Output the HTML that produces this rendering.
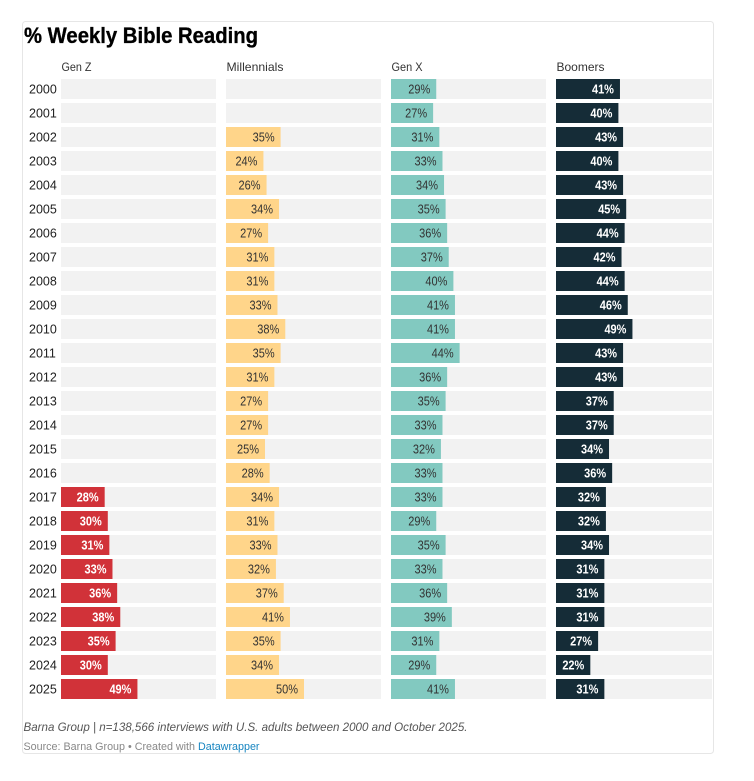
<!DOCTYPE html>
<html lang="en">
<head>
<meta charset="utf-8">
<title>% Weekly Bible Reading</title>
<style>
  html, body { margin: 0; padding: 0; background: #fff; width: 754px; height: 781px; overflow: hidden; }
  svg { display: block; font-family: "Liberation Sans", sans-serif; }
  a { text-decoration: none; }
</style>
</head>
<body>
<svg id="chart" width="754" height="781" viewBox="0 0 754 781">
  <rect x="22.5" y="21.5" width="691" height="732" rx="3" fill="#fff" stroke="#e6e6e6"/>
  <text x="24" y="43" font-size="22" font-weight="700" fill="#000" stroke="#000" stroke-width="0.35" textLength="234" lengthAdjust="spacingAndGlyphs">% Weekly Bible Reading</text>
  <g id="plot"></g>
  <text x="23.5" y="731" font-size="12" font-style="italic" fill="#555" textLength="444" lengthAdjust="spacingAndGlyphs">Barna Group | n=138,566 interviews with U.S. adults between 2000 and October 2025.</text>
  <text x="23.5" y="750" font-size="11" fill="#888" textLength="236" lengthAdjust="spacingAndGlyphs">Source: Barna Group • Created with <tspan fill="#1584c0">Datawrapper</tspan></text>
</svg>
<script>
const years = [2000,2001,2002,2003,2004,2005,2006,2007,2008,2009,2010,2011,2012,2013,2014,2015,2016,2017,2018,2019,2020,2021,2022,2023,2024,2025];
const genZ = [null,null,null,null,null,null,null,null,null,null,null,null,null,null,null,null,null,28,30,31,33,36,38,35,30,49];
const millennials = [null,null,35,24,26,34,27,31,31,33,38,35,31,27,27,25,28,34,31,33,32,37,41,35,34,50];
const genX = [29,27,31,33,34,35,36,37,40,41,41,44,36,35,33,32,33,33,29,35,33,36,39,31,29,41];
const boomers = [41,40,43,40,43,45,44,42,44,46,49,43,43,37,37,34,36,32,32,34,31,31,31,27,22,31];
const seriesNames = ['Gen Z','Millennials','Gen X','Boomers'];
const seriesValues = [genZ, millennials, genX, boomers];
const seriesColors = ['#d13239','#ffd58a','#82c9c0','#152c37'];
const labelColors = ['#ffffff','#333333','#333333','#ffffff'];

const NS = 'http://www.w3.org/2000/svg';
const plot = document.getElementById('plot');
const panelLeft = i => 61 + i * 165;
const panelWidth = i => (i === 3 ? 156 : 155);
const rowTop = i => 79 + i * 24;
const rowHeight = 20;
const xScale = v => v * 1.56;
const headerLength = i => [30, 57, 31, 48][i];

function make(tag, attrs, text) {
  const el = document.createElementNS(NS, tag);
  Object.keys(attrs).forEach(k => el.setAttribute(k, attrs[k]));
  if (text !== undefined) el.textContent = text;
  plot.appendChild(el);
  return el;
}

years.forEach((year, r) => {
  const t = make('text', { x: 29, y: rowTop(r) + 14.5, 'font-size': 12.5, fill: '#222' }, year);
  
  
});

seriesNames.forEach((name, s) => {
  const key = name.toLowerCase().replace(/\s+/g, '-');
  const h = make('text', { x: panelLeft(s) + 0.5, y: 71, 'font-size': 12, fill: '#333', textLength: headerLength(s), lengthAdjust: 'spacingAndGlyphs' }, name);
  
  
  years.forEach((year, r) => {
    const bg = make('rect', { x: panelLeft(s), y: rowTop(r), width: panelWidth(s), height: rowHeight, fill: '#f2f2f2' });
    
    
    const v = seriesValues[s][r];
    if (v === null) return;
    const w = xScale(v);
    const bar = make('rect', { x: panelLeft(s), y: rowTop(r), width: w, height: rowHeight, fill: seriesColors[s] });
    
    
    const lab = make('text', {
      x: panelLeft(s) + w - 6, y: rowTop(r) + 14.5, 'font-size': 12.5, 'text-anchor': 'end',
      textLength: 22, lengthAdjust: 'spacingAndGlyphs',
      'font-weight': labelColors[s] === '#ffffff' ? 700 : 400, fill: labelColors[s]
    }, v + '%');
    
    
  });
});
</script>
</body>
</html>
